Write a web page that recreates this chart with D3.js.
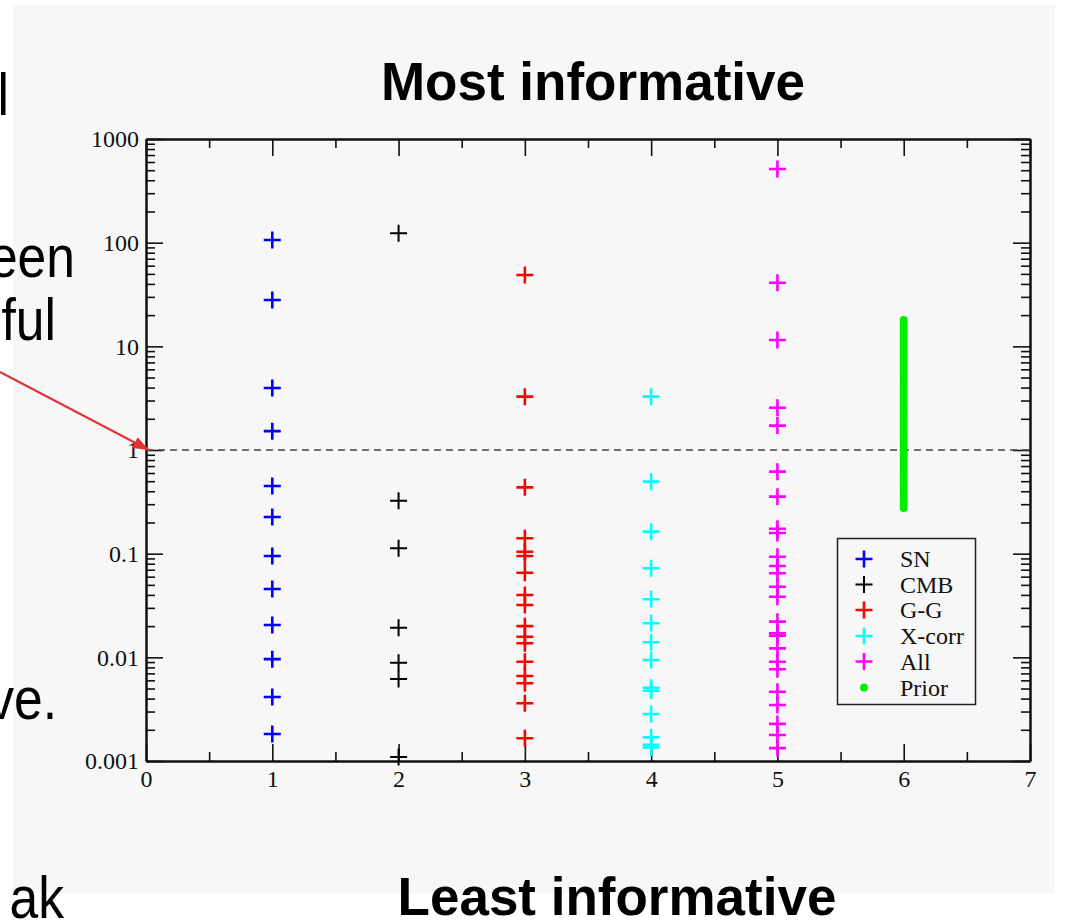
<!DOCTYPE html>
<html>
<head>
<meta charset="utf-8">
<script src="https://cdn.jsdelivr.net/npm/d3@7"></script>
<style>
  html, body { margin: 0; padding: 0; background: #ffffff; }
  svg { display: block; }
</style>
</head>
<body>
<svg id="chart" width="1068" height="920"></svg>
<script>
// ---- data ----
const xTickValues = [0, 1, 2, 3, 4, 5, 6, 7];
const yTickValues = [0.001, 0.01, 0.1, 1, 10, 100, 1000];
const yTickLabels = ["0.001", "0.01", "0.1", "1", "10", "100", "1000"];

const seriesNames = ["SN", "CMB", "G-G", "X-corr", "All", "Prior"];
const seriesColors = ["#0000ff", "#000000", "#ff0000", "#00ffff", "#ff00ff", "#00ee00"];
const seriesX = [1, 2, 3, 4, 5, 6];

const snValues = [106, 28, 3.96, 1.52, 0.45, 0.226, 0.095, 0.0456, 0.0205, 0.0096, 0.00414, 0.00182];
const cmbValues = [123, 0.324, 0.113, 0.0193, 0.00888, 0.00618, 0.00109];
const ggValues = [48.7, 3.27, 0.436, 0.141, 0.1045, 0.095, 0.0655, 0.0399, 0.032, 0.02, 0.0158,
  0.01365, 0.00908, 0.0066, 0.00562, 0.00361, 0.00166];
const xcorrValues = [3.27, 0.495, 0.163, 0.0723, 0.0363, 0.0213, 0.014, 0.00942, 0.00509, 0.00476,
  0.00284, 0.00169, 0.00143, 0.00135];
const allValues = [514, 41.1, 11.5, 2.56, 1.72, 0.618, 0.355, 0.174, 0.158, 0.0935, 0.076, 0.0647,
  0.048, 0.0384, 0.0221, 0.0171, 0.0162, 0.0122, 0.00907, 0.00767, 0.00466, 0.00347, 0.00228,
  0.00178, 0.00133];
const priorValues = [17.95, 16.48, 15.14, 13.9, 12.76, 11.72, 10.76, 9.89, 9.08, 8.34, 7.66, 7.03,
  6.46, 5.93, 5.45, 5.0, 4.59, 4.22, 3.87, 3.56, 3.27, 3.0, 2.75, 2.53, 2.32, 2.13, 1.96, 1.8, 1.65,
  1.52, 1.39, 1.28, 1.17, 1.08, 0.991, 0.91, 0.836, 0.767, 0.705, 0.647, 0.594, 0.546, 0.501, 0.46,
  0.423, 0.388, 0.356, 0.327, 0.301, 0.276];

const crossSeries = [snValues, cmbValues, ggValues, xcorrValues, allValues];

// ---- layout ----
const svg = d3.select("#chart");
const plot = { left: 146, right: 1030, top: 139, bottom: 761 };

const x = d3.scaleLinear().domain([0, 7]).range([plot.left, plot.right]);
const y = d3.scaleLog().domain([0.001, 1000]).range([plot.bottom, plot.top]);

// slide background panel
svg.append("rect")
  .attr("x", 13).attr("y", 5).attr("width", 1042).attr("height", 888)
  .attr("fill", "#f7f7f7");

// slide body text running off the left edge
const sideText = [
  { t: "l", xEnd: 9, base: 115 },
  { t: "een", xEnd: 75, base: 277 },
  { t: "ful", xEnd: 56, base: 340 },
  { t: "ve.", xEnd: 57, base: 719 },
  { t: "ak", xEnd: 64, base: 918 }
];
svg.append("g").selectAll("text").data(sideText).join("text")
  .attr("transform", d => `translate(${d.xEnd},${d.base}) scale(0.86,1)`)
  .attr("text-anchor", "end")
  .attr("font-family", "'Liberation Sans', Arial, sans-serif")
  .attr("font-size", 60)
  .attr("fill", "#000")
  .text(d => d.t);

// headings
svg.append("text")
  .attr("x", 593).attr("y", 100)
  .attr("text-anchor", "middle")
  .attr("font-family", "'Liberation Sans', Arial, sans-serif")
  .attr("font-weight", "bold").attr("font-size", 53)
  .text("Most informative");
svg.append("text")
  .attr("x", 617).attr("y", 915)
  .attr("text-anchor", "middle")
  .attr("font-family", "'Liberation Sans', Arial, sans-serif")
  .attr("font-weight", "bold").attr("font-size", 53)
  .text("Least informative");

// ---- axes ----
const serif = "'Liberation Serif', 'Times New Roman', serif";
const majorLen = 17, minorLen = 9;
const xMinor = d3.range(0.5, 7, 1);
const yMinor = [];
yTickValues.slice(0, -1).forEach(dec => {
  for (let k = 2; k <= 9; k++) yMinor.push(dec * k);
});

function styleAxis(g) {
  g.selectAll("path.domain").attr("stroke", "#111").attr("stroke-width", 2);
  g.selectAll(".tick line").attr("stroke", "#111").attr("stroke-width", 1.6);
  g.selectAll(".tick text").attr("font-family", serif).attr("font-size", 24).attr("fill", "#111");
}

// bottom
svg.append("g").attr("transform", `translate(0,${plot.bottom})`)
  .call(d3.axisBottom(x).tickValues(xTickValues).tickFormat(d3.format("d"))
    .tickSize(-majorLen).tickSizeOuter(0).tickPadding(9))
  .call(styleAxis);
svg.append("g").attr("transform", `translate(0,${plot.bottom})`)
  .call(d3.axisBottom(x).tickValues(xMinor).tickFormat("").tickSize(-minorLen).tickSizeOuter(0))
  .call(styleAxis);
// top
svg.append("g").attr("transform", `translate(0,${plot.top})`)
  .call(d3.axisTop(x).tickValues(xTickValues).tickFormat("").tickSize(-majorLen).tickSizeOuter(0))
  .call(styleAxis);
svg.append("g").attr("transform", `translate(0,${plot.top})`)
  .call(d3.axisTop(x).tickValues(xMinor).tickFormat("").tickSize(-minorLen).tickSizeOuter(0))
  .call(styleAxis);
// left
svg.append("g").attr("transform", `translate(${plot.left},0)`)
  .call(d3.axisLeft(y).tickValues(yTickValues).tickFormat((d, i) => yTickLabels[i])
    .tickSize(-majorLen).tickSizeOuter(0).tickPadding(7))
  .call(styleAxis);
svg.append("g").attr("transform", `translate(${plot.left},0)`)
  .call(d3.axisLeft(y).tickValues(yMinor).tickFormat("").tickSize(-minorLen).tickSizeOuter(0))
  .call(styleAxis);
// right
svg.append("g").attr("transform", `translate(${plot.right},0)`)
  .call(d3.axisRight(y).tickValues(yTickValues).tickFormat("").tickSize(-majorLen).tickSizeOuter(0))
  .call(styleAxis);
svg.append("g").attr("transform", `translate(${plot.right},0)`)
  .call(d3.axisRight(y).tickValues(yMinor).tickFormat("").tickSize(-minorLen).tickSizeOuter(0))
  .call(styleAxis);

// reference line at ratio 1
svg.append("line")
  .attr("x1", plot.left).attr("x2", plot.right)
  .attr("y1", y(1)).attr("y2", y(1))
  .attr("stroke", "#444").attr("stroke-width", 1.5)
  .attr("stroke-dasharray", "7,5");

// ---- marks ----
const half = 8.5;
function crossPath(cx, cy, h) {
  return `M${cx - h},${cy}H${cx + h}M${cx},${cy - h}V${cy + h}`;
}

// prior: dense column of dots
svg.append("g").selectAll("circle").data(priorValues).join("circle")
  .attr("cx", x(seriesX[5])).attr("cy", d => y(d)).attr("r", 4)
  .attr("fill", seriesColors[5]);

crossSeries.forEach((vals, i) => {
  svg.append("g").selectAll("path").data(vals).join("path")
    .attr("d", d => crossPath(x(seriesX[i]), y(d), half))
    .attr("fill", "none")
    .attr("stroke", seriesColors[i])
    .attr("stroke-width", i === 1 ? 2 : 2.6);
});

// ---- legend ----
const legend = svg.append("g");
legend.append("rect")
  .attr("x", 837.5).attr("y", 538.5).attr("width", 138).attr("height", 166)
  .attr("fill", "#f7f7f7").attr("stroke", "#222").attr("stroke-width", 1.5);
const legendY = [559, 584.5, 610, 636, 661.5, 687.5];
seriesNames.forEach((name, i) => {
  const cy = legendY[i];
  if (i < 5) {
    legend.append("path")
      .attr("d", crossPath(864, cy, half))
      .attr("fill", "none")
      .attr("stroke", seriesColors[i])
      .attr("stroke-width", i === 1 ? 2 : 2.6);
  } else {
    legend.append("circle").attr("cx", 864).attr("cy", cy).attr("r", 4).attr("fill", seriesColors[i]);
  }
  legend.append("text")
    .attr("x", 900).attr("y", cy).attr("dy", "0.35em")
    .attr("font-family", serif).attr("font-size", 24).attr("fill", "#111")
    .text(name);
});

// ---- annotation arrow pointing at ratio 1 ----
const defs = svg.append("defs");
defs.append("marker")
  .attr("id", "arrowHead")
  .attr("viewBox", "0 0 16 12")
  .attr("refX", 16).attr("refY", 6)
  .attr("markerWidth", 16).attr("markerHeight", 12)
  .attr("markerUnits", "userSpaceOnUse")
  .attr("orient", "auto")
  .append("path").attr("d", "M0,0L16,6L0,12Z").attr("fill", "#e03333");
svg.append("line")
  .attr("x1", 0).attr("y1", 372)
  .attr("x2", 149).attr("y2", y(1))
  .attr("stroke", "#e03333").attr("stroke-width", 2)
  .attr("marker-end", "url(#arrowHead)");
</script>
</body>
</html>
